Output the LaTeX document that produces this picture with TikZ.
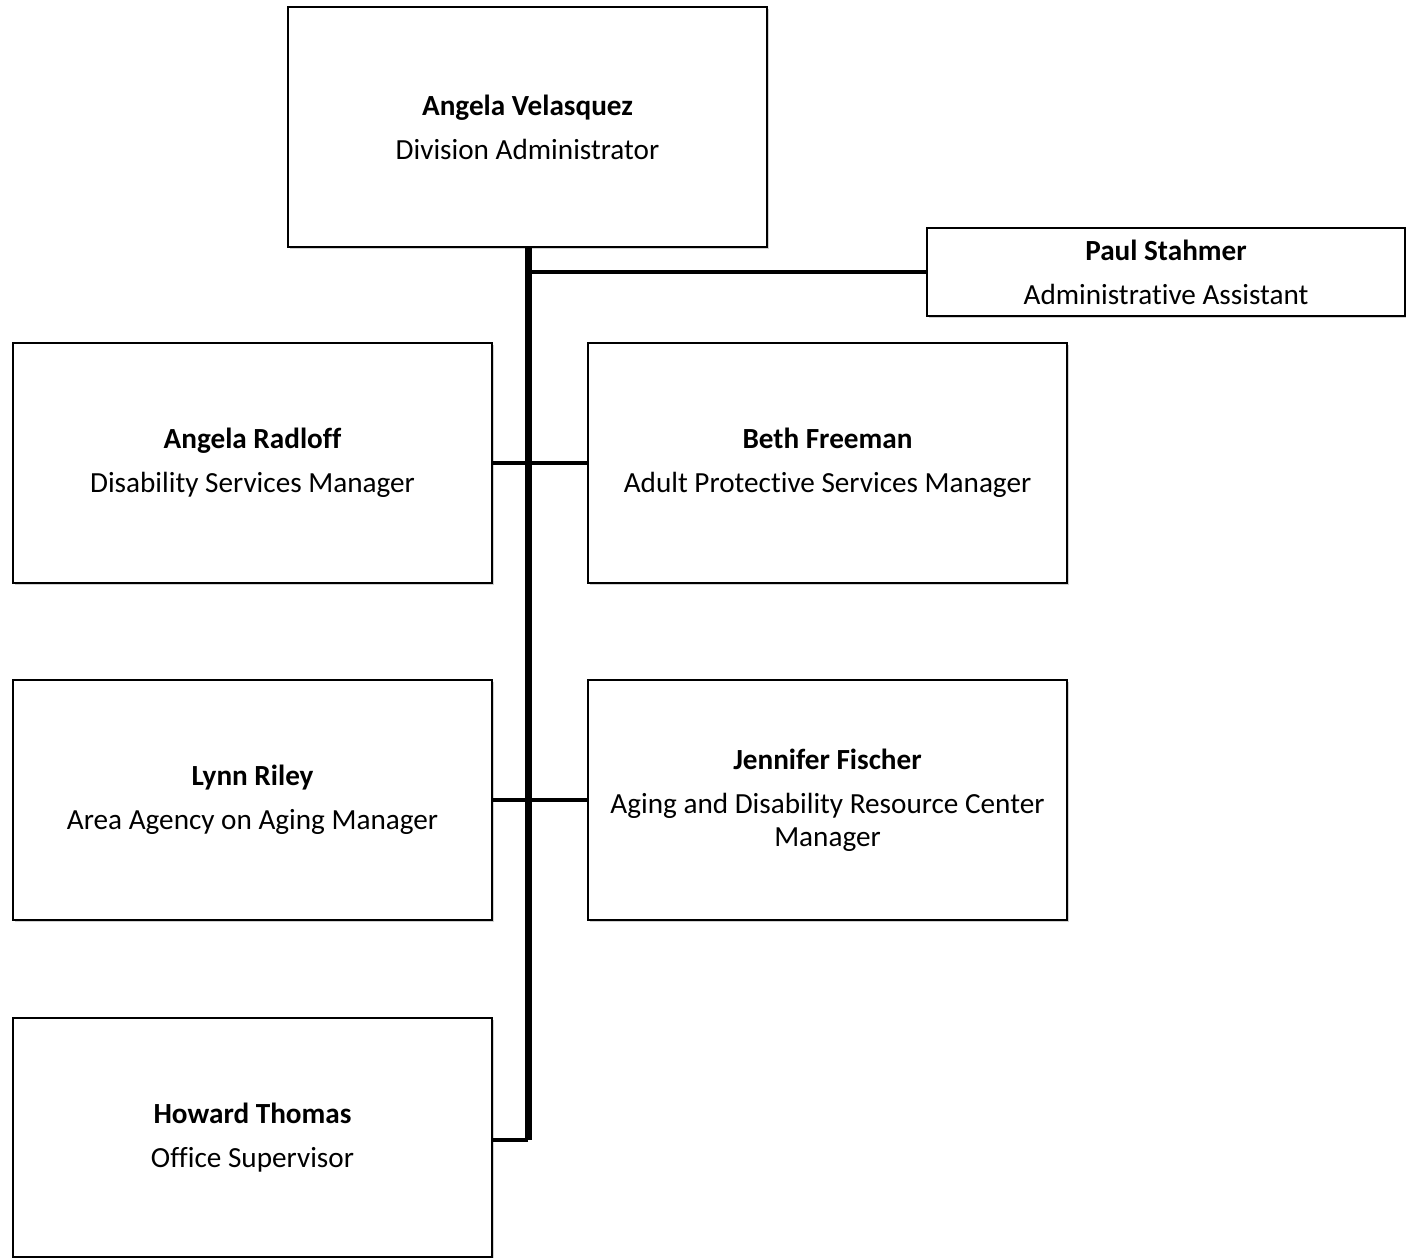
\documentclass[tikz,border=0pt]{standalone}
\usepackage{fontspec}
\setmainfont{Carlito}[Ligatures=NoCommon]
\usetikzlibrary{shadows}
\tikzset{
  person/.style={draw=black, line width=1.6pt, fill=white, align=center,
    minimum width=479pt, inner sep=0pt,
    font=\fontsize{29.2}{33}\selectfont,
    drop shadow={shadow xshift=2pt, shadow yshift=-2pt, fill=black, opacity=0.18}},
  trunk/.style={line width=7pt},
  branch/.style={line width=4.5pt},
}
\newcommand{\pname}[1]{\textbf{#1}\\[11pt]}
\begin{document}
\begin{tikzpicture}[x=1pt,y=-1pt]
\useasboundingbox (0,0) rectangle (1406,1258);
\node[person, minimum height=240pt] (top) at (527.5,127) {\pname{Angela Velasquez}Division Administrator};
\node[person, minimum width=478pt, minimum height=88pt] (paul) at (1166,272) {\pname{Paul Stahmer}Administrative Assistant};
\node[person, minimum height=240pt] (radloff) at (252.5,463) {\pname{Angela Radloff}Disability Services Manager};
\node[person, minimum height=240pt] (freeman) at (827.5,463) {\pname{Beth Freeman}Adult Protective Services Manager};
\node[person, minimum height=240pt] (riley) at (252.5,800) {\pname{Lynn Riley}Area Agency on Aging Manager};
\node[person, minimum height=240pt] (fischer) at (827.5,800) {\pname{Jennifer Fischer}Aging and Disability Resource Center\\Manager};
\node[person, minimum height=239pt] (howard) at (252.5,1137.5) {\pname{Howard Thomas}Office Supervisor};
\coordinate (tbot) at (528,247);
\coordinate (tend) at (528,1140);
\draw[trunk] (tbot) -- (tend);
\draw[branch] (tend) -- (howard.east |- tend);
\draw[branch] (tbot |- paul.west) -- (paul.west);
\draw[branch] (radloff.east) -- (freeman.west);
\draw[branch] (riley.east) -- (fischer.west);
\end{tikzpicture}
\end{document}
